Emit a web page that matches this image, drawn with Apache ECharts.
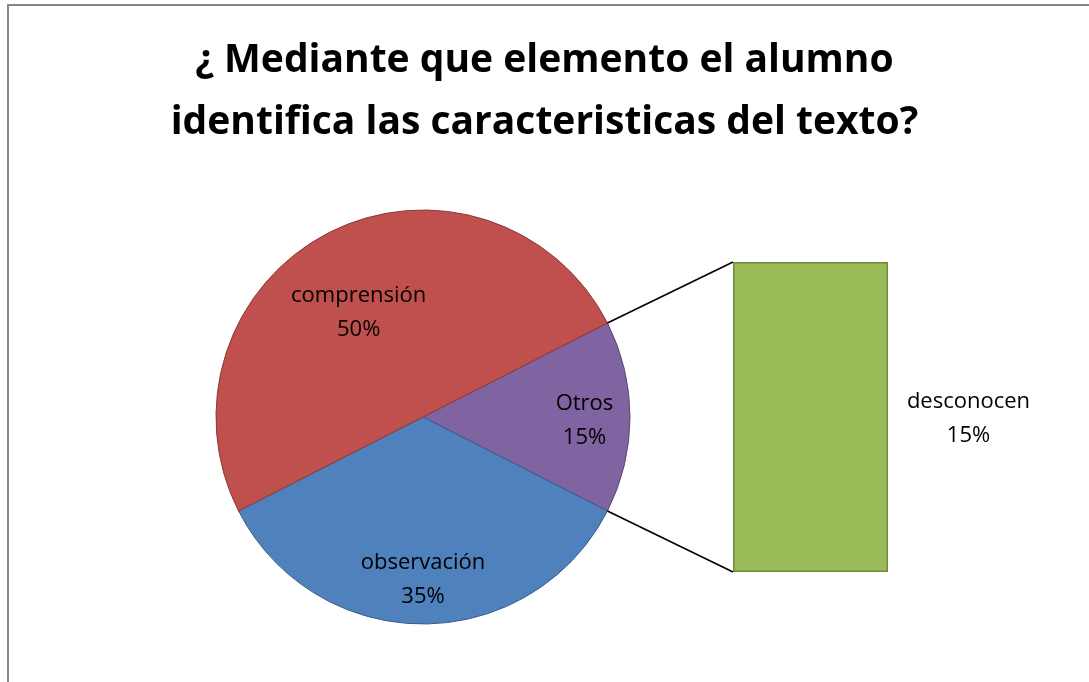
<!DOCTYPE html>
<html>
<head>
<meta charset="utf-8">
<script src="https://cdn.jsdelivr.net/npm/echarts@6/dist/echarts.min.js"></script>
<style>
html,body{margin:0;padding:0;background:#fff;}
#chart{width:1089px;height:682px;}
</style>
</head>
<body>
<div id="chart"></div>
<script>
// ---- data ----
var titleText = '¿ Mediante que elemento el alumno\nidentifica las caracteristicas del texto?';
var pieCategories = ['Otros', 'observación', 'comprensión'];
var pieValues = [15, 35, 50];
var barCategories = ['desconocen'];
var barValues = [15];

// ---- styles ----
var FONT = '"Open Sans", Lato, sans-serif';
var pieColors = ['#8064A2', '#4F81BD', '#C0504D'];
var pieBorders = ['#5C4776', '#385D8A', '#8C3836'];
var labelOffsets = [[55, 4], [0, 56], [-16, -9]];
var CX = 423, CY = 417, R = 207;

var total = pieValues.reduce(function (a, b) { return a + b; }, 0);
var startAngle = pieValues[0] / total * 360 / 2;

var chart = echarts.init(document.getElementById('chart'), null, {renderer: 'canvas'});

var pieData = pieCategories.map(function (n, i) {
  return {
    name: n,
    value: pieValues[i],
    itemStyle: {color: pieColors[i], borderColor: pieBorders[i], borderWidth: 1},
    label: {offset: labelOffsets[i]}
  };
});

var option = {
  backgroundColor: '#fff',
  animation: false,
  title: {
    text: titleText,
    left: 'center',
    top: 25,
    textStyle: {fontFamily: FONT, fontSize: 39, fontWeight: 'bold', color: '#000', lineHeight: 62}
  },
  grid: {left: 733, top: 262, width: 155, height: 310},
  xAxis: {type: 'category', data: barCategories, show: false},
  yAxis: {type: 'value', min: 0, max: barValues[0], show: false},
  series: [
    {
      type: 'pie',
      center: [CX, CY],
      radius: R,
      startAngle: startAngle,
      clockwise: true,
      data: pieData,
      label: {
        position: 'inside',
        formatter: function (p) { return p.name + '\n' + Math.round(p.percent) + '%'; },
        fontFamily: FONT, fontSize: 22, color: '#000', lineHeight: 34
      },
      labelLine: {show: false},
      emphasis: {disabled: true}
    },
    {
      type: 'bar',
      data: barValues,
      barWidth: '100%',
      itemStyle: {color: '#9BBB59', borderColor: '#6E8A3A', borderWidth: 1.5},
      label: {
        show: true,
        position: 'inside',
        offset: [158, 2],
        formatter: function (p) { return p.name + '\n' + p.value + '%'; },
        fontFamily: FONT, fontSize: 22, color: '#000', lineHeight: 34
      },
      emphasis: {disabled: true}
    }
  ]
};
chart.setOption(option);

// connector lines from the Otros slice edges to the bar corners
var a = startAngle * Math.PI / 180;
var p1 = [CX + R * Math.cos(a), CY - R * Math.sin(a)];
var p2 = [CX + R * Math.cos(a), CY + R * Math.sin(a)];
var grid = chart.getModel().getComponent('grid').coordinateSystem.getRect();
chart.setOption({
  graphic: [
    {type: 'rect', shape: {x: 8, y: 5, width: 1200, height: 800}, style: {fill: 'none', stroke: '#868686', lineWidth: 2}, z: 0, silent: true},
    {type: 'line', shape: {x1: p1[0], y1: p1[1], x2: grid.x, y2: grid.y}, style: {stroke: '#000', lineWidth: 1.6}, z: 10},
    {type: 'line', shape: {x1: p2[0], y1: p2[1], x2: grid.x, y2: grid.y + grid.height}, style: {stroke: '#000', lineWidth: 1.6}, z: 10}
  ]
});
</script>
</body>
</html>
